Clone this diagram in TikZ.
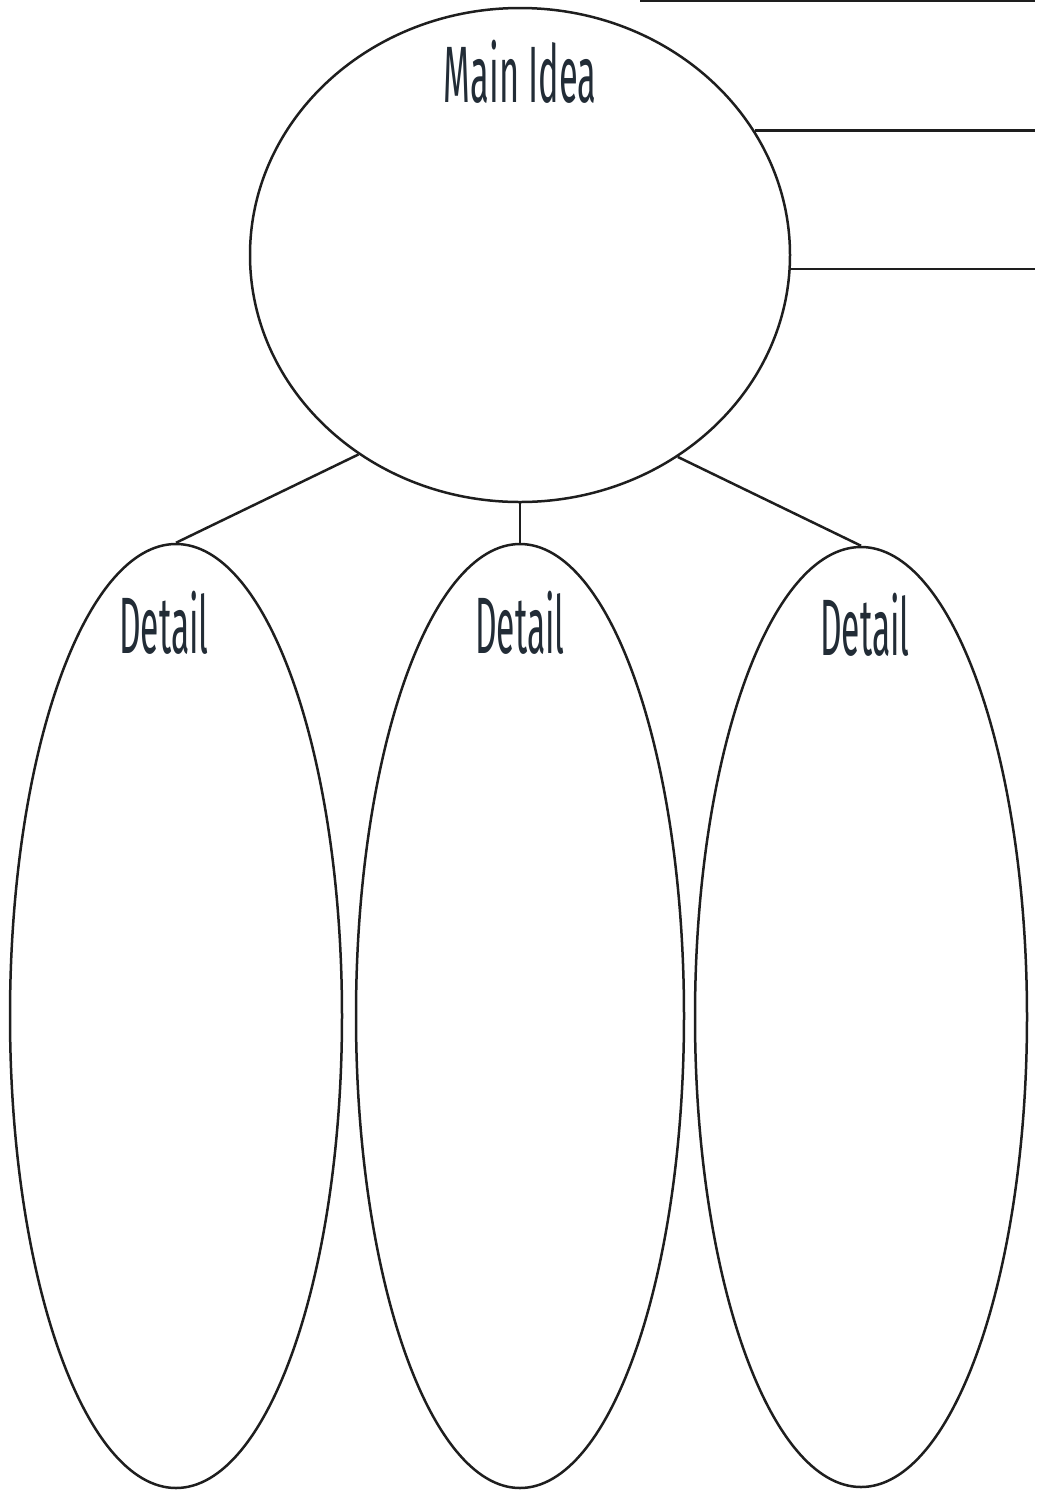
\documentclass[tikz,border=0pt]{standalone}
\usepackage{fontspec}
\setmainfont{Fira Sans}
\usetikzlibrary{shapes.geometric}
\definecolor{ink}{RGB}{30,30,30}
\definecolor{txt}{RGB}{34,44,54}
\tikzset{
  bubble/.style={draw=ink, line width=1.25pt, ellipse, inner sep=0pt},
  link/.style={draw=ink, line width=1.25pt},
  lbl/.style={text=txt, inner sep=0pt, font=\fontsize{40}{40}\selectfont}
}
\begin{document}
\begin{tikzpicture}[x=0.5pt, y=-0.5pt]
\useasboundingbox (0,0) rectangle (1038,1490);
\node[bubble, minimum width=270pt, minimum height=247pt] (main) at (520,255) {};
\node[bubble, minimum width=166pt, minimum height=472pt] (d1) at (176,1016) {};
\node[bubble, minimum width=164pt, minimum height=472pt] (d2) at (520,1016) {};
\node[bubble, minimum width=166pt, minimum height=470pt] (d3) at (861,1017) {};
\node[lbl] (tmain) at (520,72) {\scalebox{0.43}[1]{Main Idea}};
\node[lbl] (t1) at (164,623) {\scalebox{0.42}[1]{Detail}};
\node[lbl] (t2) at (520,623) {\scalebox{0.42}[1]{Detail}};
\node[lbl] (t3) at (865,625) {\scalebox{0.42}[1]{Detail}};
\coordinate (rx) at (1035,0);
\coordinate (tl) at (640,1);
\draw[link] (main.231.3) -- (d1.north);
\draw[link] (main.south) -- (d2.north);
\draw[link] (main.308.7) -- (d3.north);
\draw[link] (main.28.2) -- (main.28.2 -| rx);
\draw[link] (main.-3.5) -- (main.-3.5 -| rx);
\draw[link] (tl) -- (tl -| rx);
\end{tikzpicture}
\end{document}
